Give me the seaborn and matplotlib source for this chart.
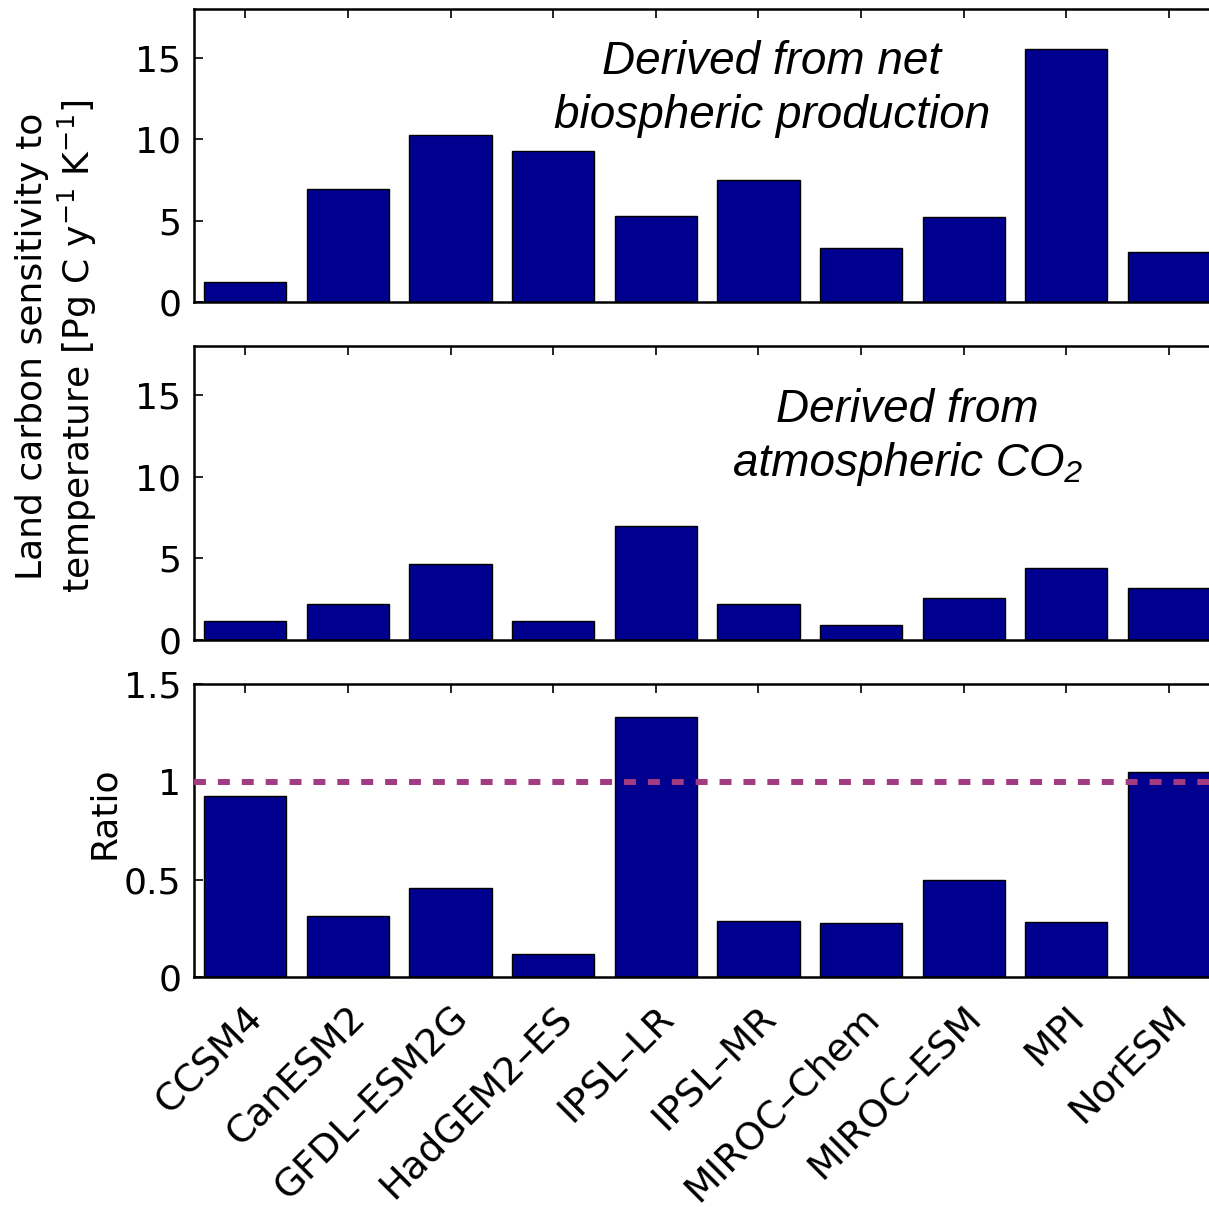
import matplotlib
matplotlib.use("Agg")
import matplotlib.pyplot as plt
import seaborn as sns
import pandas as pd

models = ["CCSM4", "CanESM2", "GFDL–ESM2G", "HadGEM2–ES", "IPSL–LR",
          "IPSL–MR", "MIROC–Chem", "MIROC–ESM", "MPI", "NorESM"]
nbp_sens = [1.22, 6.94, 10.27, 9.25, 5.27, 7.47, 3.31, 5.19, 15.53, 3.04]
co2_sens = [1.18, 2.22, 4.67, 1.14, 7.0, 2.2, 0.92, 2.57, 4.4, 3.18]
ratio = [0.926, 0.316, 0.457, 0.121, 1.33, 0.289, 0.28, 0.497, 0.284, 1.05]

sens_ticks = [0, 5, 10, 15]
ratio_ticks = [0, 0.5, 1, 1.5]
ratio_ticklabels = ["0", "0.5", "1", "1.5"]

sns.set_style("ticks")
plt.rcParams["font.family"] = ["DejaVu Sans"]
plt.rcParams["mathtext.fontset"] = "dejavusans"
for k in ["text.color", "axes.labelcolor", "xtick.color", "ytick.color",
          "axes.edgecolor"]:
    plt.rcParams[k] = "black"

BAR = "#00008F"
LINE = "#A23B82"
FS = 26
ANN_FONT = ["Liberation Sans", "DejaVu Sans"]

fig = plt.figure(figsize=(12.09, 12.07), dpi=100)
left, width = 0.1604, 0.849
ax1 = fig.add_axes([left, 0.7498, width, 0.2428])
ax2 = fig.add_axes([left, 0.4698, width, 0.2436])
ax3 = fig.add_axes([left, 0.1903, width, 0.2428])

panels = [(ax1, nbp_sens), (ax2, co2_sens), (ax3, ratio)]
for ax, vals in panels:
    df = pd.DataFrame({"model": models, "value": vals})
    sns.barplot(data=df, x="model", y="value", color=BAR, saturation=1,
                width=0.8, edgecolor="black", linewidth=1.0, ax=ax)
    ax.set_xlim(-0.5, len(models) - 0.5)
    ax.set_xlabel("")
    ax.set_ylabel("")
    for s in ax.spines.values():
        s.set_visible(True)
        s.set_linewidth(1.8)
        s.set_color("black")
    ax.tick_params(axis="both", direction="in", top=True, right=True,
                   length=6.5, width=1.2, labelsize=FS, color="black",
                   labelcolor="black")
    ax.tick_params(axis="y", pad=9)

for ax in (ax1, ax2):
    ax.set_ylim(0, 18)
    ax.set_yticks(sens_ticks)
    ax.set_yticklabels([str(t) for t in sens_ticks])
    ax.tick_params(axis="x", labelbottom=False)

ax3.set_ylim(0, 1.5)
ax3.set_yticks(ratio_ticks)
ax3.set_yticklabels(ratio_ticklabels)
ax3.axhline(1, color=LINE, lw=4.3, linestyle=(0, (2, 2)),
            dash_capstyle="butt", zorder=5)
ax3.tick_params(axis="x", pad=16)
ax3.set_xticks(range(len(models)))
ax3.set_xticklabels(models, rotation=45, ha="right", va="top",
                    rotation_mode="anchor", fontsize=27.5)

ax1.text(0.563, 0.728, "Derived from net\nbiospheric production",
         transform=ax1.transAxes, ha="center", va="center",
         fontsize=33, fontstyle="italic", family=ANN_FONT, linespacing=1.3)
ax2.text(0.695, 0.690, "Derived from\natmospheric CO₂",
         transform=ax2.transAxes, ha="center", va="center",
         fontsize=33, fontstyle="italic", family=ANN_FONT, linespacing=1.3)

fig.text(0.047, 0.7133,
         "Land carbon sensitivity to\ntemperature [Pg C y$^{-1}$ K$^{-1}$]",
         rotation=90, ha="center", va="center", fontsize=FS)
fig.text(0.086, 0.327, "Ratio", rotation=90, ha="center", va="center",
         fontsize=FS)

fig.savefig("out.png", dpi=100)
